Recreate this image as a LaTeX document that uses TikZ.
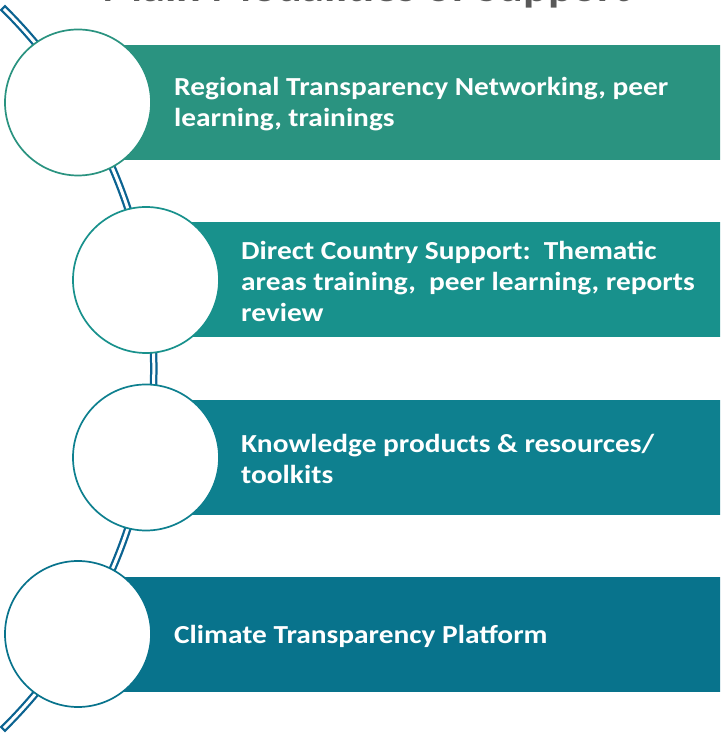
\documentclass[tikz,border=0pt]{standalone}
\usepackage{fontspec}
\setmainfont{Carlito}
\newfontfamily\bodyfont{Carlito}[FakeStretch=1.13]
\newfontfamily\titlefont{Carlito}[FakeStretch=1.1]
\usetikzlibrary{calc}
\definecolor{cA}{HTML}{2A9380}
\definecolor{cB}{HTML}{18918C}
\definecolor{cC}{HTML}{0E808F}
\definecolor{cD}{HTML}{08738C}
\definecolor{conn}{HTML}{0B6391}
\definecolor{titlegray}{HTML}{595959}
\tikzset{
  bar/.style={rectangle, inner sep=0pt, minimum width=660pt, minimum height=115pt, anchor=west},
  disc/.style={circle, fill=white, line width=1.7pt, inner sep=0pt, minimum size=146pt},
  label/.style={anchor=west, inner sep=0pt, align=left, text=white, font=\bodyfont\bfseries\fontsize{26}{31}\selectfont},
}
\begin{document}
\begin{tikzpicture}[x=1pt,y=1pt]
\path[use as bounding box] (0,0) rectangle (720,735);
\clip (0,0) rectangle (720,735);
% title (cut off at top)
\node[anchor=base, inner sep=0pt, text=titlegray, font=\titlefont\bfseries\fontsize{42}{46}\selectfont] (title) at (366,733) {Main Modalities of Support};
% curved connector
\coordinate (arcC) at (-352.6,366.5);
\draw[conn, line width=7.5pt] ($(arcC)+(45.5:506.4pt)$) arc[start angle=45.5, end angle=-45.5, radius=506.4pt];
\draw[white, line width=3pt] ($(arcC)+(45.25:506.4pt)$) arc[start angle=45.25, end angle=-45.25, radius=506.4pt];
% bars
\node[bar, fill=cA] (b1) at (78,632.5) {};
\node[bar, fill=cB] (b2) at (146,455) {};
\node[bar, fill=cC] (b3) at (146,277.5) {};
\node[bar, fill=cD] (b4) at (78,100.5) {};
% circles
\node[disc, draw=cA] (n1) at (78,632.5) {};
\node[disc, draw=cB] (n2) at (146,455) {};
\node[disc, draw=cC] (n3) at (146,277.5) {};
\node[disc, draw=cD] (n4) at (78,101) {};
% labels
\node[label] (t1) at (174,631) {Regional Transparency Networking, peer\\learning, trainings};
\node[label] (t2) at (241,453.5) {Direct Country Support:\ \ Thematic\\areas training,\ \ peer learning, reports\\review};
\node[label] (t3) at (241,276) {Knowledge products \& resources/\\toolkits};
\node[label] (t4) at (174,99) {Climate Transparency Platform};
\end{tikzpicture}
\end{document}
